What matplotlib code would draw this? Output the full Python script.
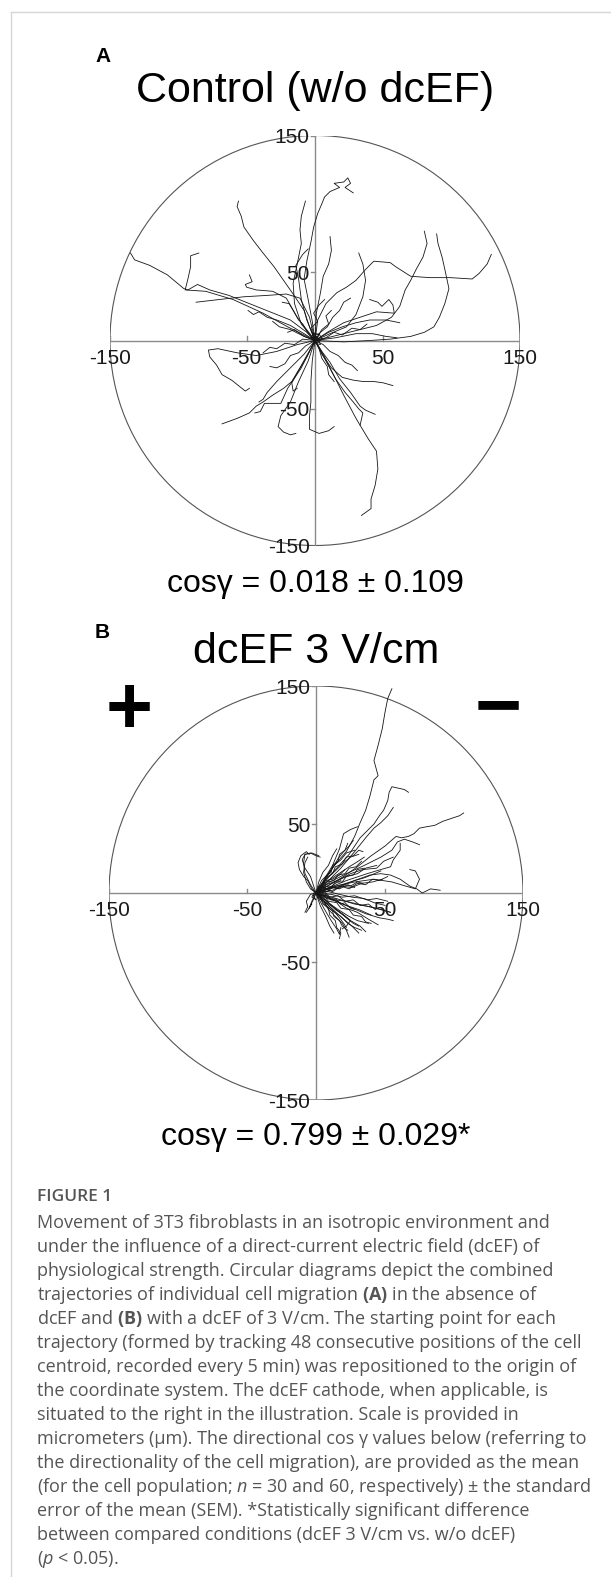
import matplotlib
matplotlib.use("Agg")
import matplotlib.pyplot as plt
from matplotlib.patches import Circle
from matplotlib.lines import Line2D

# ── data: cell trajectories (µm, start repositioned to origin) ─────────────
control_tracks = [
    [(0, 0), (-2, 14), (-5, 30), (-8, 45), (-6, 58), (-3, 72), (-1, 83), (2, 93), (5, 100), (7, 105),
     (11, 109), (18, 112), (14, 115), (21, 116), (24, 119), (26, 115), (22, 112), (28, 108)],
    [(0, 0), (-4, 10), (-8, 22), (-16, 34), (-23, 44), (-30, 54), (-38, 64), (-45, 73), (-52, 83),
     (-54, 91), (-57, 98), (-56, 102)],
    [(0, 0), (-10, 12), (-15, 27), (-16, 42), (-13, 56), (-10, 71), (-11, 81), (-10, 91), (-7, 102)],
    [(0, 0), (-6, 15), (-10, 30), (-12, 45), (-14, 55), (-9, 63), (-5, 67)],
    [(0, 0), (-6, 6), (-18, 15), (-33, 21), (-48, 27), (-63, 33), (-77, 37), (-86, 41), (-93, 37),
     (-96, 38), (-108, 48), (-121, 55), (-132, 59), (-135, 64)],
    [(0, 0), (-8, 4), (-20, 10), (-38, 20), (-60, 30), (-80, 36), (-95, 37), (-93, 45), (-91, 54),
     (-91, 62), (-85, 64)],
    [(0, 0), (-4, 17), (-11, 31), (-21, 34), (-35, 33), (-52, 32), (-70, 30), (-87, 28)],
    [(0, 0), (-13, 17), (-21, 31), (-31, 36), (-43, 37), (-50, 39), (-51, 41), (-46, 43), (-48, 48)],
    [(0, 0), (-8, 5), (-18, 11), (-28, 15), (-35, 17), (-41, 21), (-45, 19), (-49, 22)],
    [(0, 0), (-8, 3), (-18, 8), (-26, 10), (-31, 14)],
    [(0, 0), (1, 20), (4, 35), (6, 47), (10, 56), (12, 66), (11, 76)],
    [(0, 0), (11, 5), (23, 10), (30, 19), (35, 32), (37, 44), (35, 56), (32, 64)],
    [(0, 0), (2, 15), (8, 27), (16, 35), (23, 39), (30, 44), (37, 52), (43, 58), (55, 57), (59, 54),
     (70, 47), (84, 46), (99, 46), (115, 45), (120, 49), (126, 56), (129, 63)],
    [(0, 0), (9, 2), (21, 5), (33, 8), (45, 11), (56, 17), (62, 25), (66, 37), (70, 44), (74, 52),
     (79, 61), (82, 71), (80, 80)],
    [(0, 0), (21, -1), (40, 0), (55, 1), (70, 3), (80, 6), (87, 10), (91, 17), (95, 27), (98, 38),
     (95, 52), (93, 61), (90, 71), (89, 78)],
    [(0, 0), (9, 6), (21, 13), (33, 17), (45, 21), (58, 20), (57, 26), (54, 30), (49, 25), (46, 28), (40, 30)],
    [(0, 0), (10, 6), (20, 10), (30, 13), (40, 15), (52, 15), (62, 13)],
    [(0, 0), (15, 2), (30, 5), (42, 5), (52, 3), (60, 2)],
    [(0, 0), (-13, -3), (-28, -8), (-43, -11), (-57, -9), (-71, -6), (-78, -7), (-77, -12), (-72, -18),
     (-68, -25), (-61, -29), (-56, -33), (-51, -37), (-48, -35)],
    [(0, 0), (-6, -11), (-11, -20), (-17, -30), (-23, -35), (-31, -40), (-38, -45), (-43, -48),
     (-48, -53), (-57, -57), (-68, -61)],
    [(0, 0), (-10, -20), (-20, -35), (-25, -46), (-37, -46), (-40, -52), (-44, -53)],
    [(0, 0), (-5, -15), (-12, -30), (-18, -45), (-25, -55), (-27, -63), (-23, -67), (-18, -69), (-14, -68)],
    [(0, 0), (-2, -15), (-3, -30), (-3, -45), (-4, -55), (-4, -65), (3, -68), (10, -66), (14, -63)],
    [(0, 0), (-8, -10), (-18, -20), (-28, -30), (-35, -38), (-38, -43), (-41, -45)],
    [(0, 0), (-6, -12), (-12, -22), (-17, -31), (-16, -37), (-13, -35)],
    [(0, 0), (6, -10), (11, -20), (21, -40), (30, -57), (39, -72), (45, -81), (46, -94), (44, -106),
     (41, -116), (41, -123), (34, -128)],
    [(0, 0), (5, -10), (12, -20), (20, -27), (28, -29), (35, -30), (43, -30), (50, -31), (57, -33)],
    [(0, 0), (5, -8), (11, -16), (18, -28), (26, -38), (33, -48), (37, -51), (44, -54)],
    [(0, 0), (8, -15), (15, -28), (22, -38), (28, -45), (32, -50), (35, -53), (33, -62)],
    [(0, 0), (5, 8), (10, 12), (8, 18), (12, 22)],
    [(0, 0), (-8, 3), (-15, 8), (-20, 6)],
    [(0, 0), (3, 4), (-2, 6), (2, 2), (4, -3), (0, -2)],
    [(0, 0), (4, 6), (9, 10), (13, 17), (18, 22), (21, 28), (26, 31)],
    [(0, 0), (-5, 5), (-9, 12), (-12, 15), (-16, 22), (-19, 27), (-24, 28)],
    [(0, 0), (6, -3), (11, -8), (17, -11), (22, -16), (27, -18), (31, -22)],
    [(0, 0), (-7, -4), (-12, -9), (-18, -11), (-22, -17), (-28, -20), (-33, -19)],
    [(0, 0), (3, -6), (5, -13), (9, -19), (10, -25), (14, -30)],
    [(0, 0), (-3, 9), (2, 14), (-1, 20), (3, 26), (7, 30)],
    [(0, 0), (8, 2), (14, 6), (20, 4), (27, 9), (33, 8), (38, 12)],
    [(0, 0), (-9, 1), (-15, -3), (-22, -2), (-28, -6), (-33, -5), (-38, -9)],
    [(0, 0), (2, 3), (-3, 2), (1, -2), (5, 1), (3, 5), (-2, 4), (0, 0)],
]

dcef_tracks = [
    [(0, 0), (4, 6), (9, 14), (15, 22), (22, 30), (28, 41), (32, 51), (36, 60), (39, 70), (42, 82),
     (45, 85), (42, 96), (45, 107), (48, 119), (50, 131), (52, 141), (55, 148)],
    [(0, 0), (7, 9), (15, 18), (24, 28), (32, 40), (37, 45), (42, 50), (46, 56), (49, 60), (52, 67),
     (53, 73), (55, 77), (64, 75), (67, 73)],
    [(0, 0), (8, 8), (18, 18), (28, 30), (36, 40), (42, 47), (47, 51), (52, 56), (56, 62)],
    [(0, 0), (10, 6), (20, 12), (30, 19), (40, 27), (50, 34), (58, 41), (62, 40), (67, 41), (71, 43),
     (75, 47), (80, 48), (86, 49), (92, 52), (98, 54), (104, 56), (107, 58)],
    [(0, 0), (6, 10), (12, 20), (17, 32), (20, 43), (25, 46), (30, 48)],
    [(0, 0), (10, 8), (22, 14), (35, 20), (47, 26), (55, 31), (59, 37), (64, 39), (70, 37), (75, 35)],
    [(0, 0), (12, 4), (25, 8), (39, 13), (47, 14), (54, 13), (61, 10), (68, 5), (73, 3), (77, 0),
     (83, 3), (90, 2)],
    [(0, 0), (14, 5), (28, 8), (42, 10), (55, 8), (65, 5), (72, 3), (75, 10), (72, 16), (68, 17)],
    [(0, 0), (10, 4), (22, 9), (37, 14), (47, 17), (54, 19), (56, 24), (61, 31), (61, 36)],
    [(0, 0), (-4, 6), (-8, 14), (-9, 22), (-8, 28), (-4, 29), (0, 27), (3, 26)],
    [(0, 0), (-2, -5), (-5, -11), (-3, -8)],
    [(0, 0), (8, -2), (18, -5), (28, -8), (39, -10), (47, -12), (54, -14)],
    [(0, 0), (6, -6), (12, -12), (17, -18), (20, -22), (22, -25)],
    [(0, 0), (8, -6), (14, -12), (20, -16), (25, -20), (22, -24), (19, -26)],
    [(0, 0), (12, -5), (24, -10), (36, -15), (46, -18), (52, -19), (56, -20)],
    [(0, 0), (8, -4), (15, -6), (22, -11), (30, -14), (38, -19), (45, -23)],
    [(0, 0), (6, -6), (12, -10), (19, -15), (25, -20), (32, -24), (36, -28)],
    [(0, 0), (5, -5), (9, -12), (14, -17), (19, -22), (22, -27), (24, -32)],
    [(0, 0), (7, -2), (14, -5), (22, -6), (30, -8), (39, -10), (47, -12), (54, -14)],
    [(0, 0), (9, 1), (17, -1), (26, -3), (35, -4), (42, -7), (50, -9)],
    [(0, 0), (4, -8), (8, -15), (11, -20), (15, -26), (17, -30), (18, -25)],
    [(0, 0), (10, 3), (18, 5), (26, 4), (33, 7), (41, 8), (48, 10)],
    [(0, 0), (8, 5), (15, 9), (22, 12), (30, 14), (36, 18), (44, 20)],
    [(0, 0), (6, 7), (12, 11), (18, 15), (24, 19), (29, 22), (35, 26)],
    [(0, 0), (4, 9), (9, 14), (13, 20), (18, 24), (22, 29), (28, 31)],
    [(0, 0), (2, 8), (5, 15), (9, 20), (12, 27), (15, 32)],
    [(0, 0), (-2, 6), (-4, 12), (-8, 18), (-10, 24), (-8, 28), (-3, 29), (2, 27)],
    [(0, 0), (-3, -6), (-5, -11), (-7, -14)],
    [(0, 0), (-4, 3), (-7, 8), (-9, 15), (-8, 22), (-6, 26)],
    [(0, 0), (11, -1), (19, -3), (28, -2), (37, -5), (44, -4), (52, -6)],
    [(0, 0), (6, -8), (12, -13), (18, -17), (23, -22), (28, -25), (33, -27)],
    [(0, 0), (9, -7), (16, -12), (24, -17), (30, -20), (38, -22)],
    [(0, 0), (12, 2), (20, 6), (28, 9), (35, 11), (40, 13), (47, 16)],
    [(0, 0), (7, 10), (14, 16), (20, 22), (25, 26), (31, 28)],
    [(0, 0), (3, -9), (7, -17), (10, -24), (13, -29)],
    [(0, 0), (10, -10), (19, -18), (26, -24), (31, -29)],
    [(0, 0), (13, -5), (22, -9), (31, -12), (40, -16)],
    [(0, 0), (5, 2), (11, 5), (17, 3), (23, 6), (28, 4)],
    [(0, 0), (4, 4), (9, 3), (14, 7), (18, 9)],
    [(0, 0), (8, 12), (12, 18), (16, 25), (20, 30), (24, 34), (27, 38)],
    [(0, 0), (7, 6), (16, 9), (25, 14), (34, 17), (44, 18), (49, 23), (56, 26)],
    [(0, 0), (5, -3), (10, -8), (16, -13), (22, -18), (27, -22), (31, -24)],
    [(0, 0), (3, 5), (7, 9), (12, 10), (17, 13), (21, 17)],
    [(0, 0), (3, 2), (8, 1), (12, 4), (16, 3), (21, 6), (25, 5), (30, 8), (34, 7)],
    [(0, 0), (4, -2), (7, -1), (11, -5), (14, -4), (18, -8), (21, -7), (25, -11), (28, -12)],
    [(0, 0), (2, -4), (6, -6), (8, -10), (12, -13), (13, -17), (17, -20), (19, -24), (23, -27)],
    [(0, 0), (5, 4), (8, 8), (13, 9), (16, 13), (21, 14), (24, 18), (29, 19), (33, 23)],
    [(0, 0), (2, 5), (6, 7), (7, 12), (11, 15), (12, 20), (16, 23), (17, 28), (21, 31), (23, 36)],
    [(0, 0), (-3, 3), (-6, 9), (-9, 12), (-12, 17), (-13, 22), (-11, 27), (-7, 30), (-5, 28)],
    [(0, 0), (6, 1), (10, -3), (16, -2), (21, -6), (27, -5), (32, -9), (38, -8), (43, -12)],
    [(0, 0), (7, 3), (12, 1), (18, 5), (24, 3), (30, 7), (36, 6), (41, 10), (46, 9), (52, 12)],
    [(0, 0), (3, -3), (5, -8), (9, -11), (10, -16), (14, -20), (15, -25), (18, -29), (17, -33)],
    [(0, 0), (4, 1), (7, 5), (11, 4), (14, 8), (19, 8), (22, 12), (27, 13), (30, 17), (35, 18)],
    [(0, 0), (2, 2), (5, 0), (7, 3), (4, 5), (1, 3), (3, 1)],
    [(0, 0), (-2, -2), (0, -5), (-3, -3), (-1, 1)],
    [(0, 0), (6, -2), (9, -6), (15, -7), (18, -11), (24, -12), (27, -16), (33, -17), (36, -21), (40, -22)],
    [(0, 0), (5, 6), (7, 11), (12, 14), (14, 19), (19, 21), (22, 26), (27, 27), (31, 31), (34, 30)],
    [(0, 0), (-4, -1), (-7, -6), (-6, -10), (-8, -14)],
]

panels = [
    dict(label="A", title="Control (w/o dcEF)", stat="cosγ = 0.018 ± 0.109",
         tracks=control_tracks, cx=315, cy=340.5, r=205, label_y=56, title_y=102, stat_y=592),
    dict(label="B", title="dcEF 3 V/cm", stat="cosγ = 0.799 ± 0.029*",
         tracks=dcef_tracks, cx=316, cy=893, r=207, label_y=632, title_y=663, stat_y=1145),
]
tick_vals = [-150, -50, 50, 150]

caption_head = "FIGURE 1"
caption_lines = [
    "Movement of 3T3 fibroblasts in an isotropic environment and",
    "under the influence of a direct-current electric field (dcEF) of",
    "physiological strength. Circular diagrams depict the combined",
    r"trajectories of individual cell migration $\mathbf{(A)}$ in the absence of",
    r"dcEF and $\mathbf{(B)}$ with a dcEF of 3 V/cm. The starting point for each",
    "trajectory (formed by tracking 48 consecutive positions of the cell",
    "centroid, recorded every 5 min) was repositioned to the origin of",
    "the coordinate system. The dcEF cathode, when applicable, is",
    "situated to the right in the illustration. Scale is provided in",
    "micrometers (μm). The directional cos γ values below (referring to",
    "the directionality of the cell migration), are provided as the mean",
    r"(for the cell population; $\mathit{n}$ = 30 and 60, respectively) ± the standard",
    "error of the mean (SEM). *Statistically significant difference",
    "between compared conditions (dcEF 3 V/cm vs. w/o dcEF)",
    r"($\mathit{p}$ < 0.05).",
]

# ── style ──────────────────────────────────────────────────────────────────
W, H = 611, 1577
SANS = "Liberation Sans"
CAP_FONT = "Open Sans"
CAP_COLOR = "#555555"
plt.rcParams.update({
    "mathtext.fontset": "custom",
    "mathtext.rm": CAP_FONT,
    "mathtext.it": CAP_FONT + ":italic",
    "mathtext.bf": CAP_FONT + ":bold",
})


def fx(px):
    return px / W


def fy(py):
    return 1 - py / H


fig = plt.figure(figsize=(W / 100, H / 100), dpi=100)
fig.patch.set_facecolor("white")

# card border
fig.add_artist(Line2D([fx(11), fx(11)], [fy(12), 0], color="#d6d6d6", lw=1))
fig.add_artist(Line2D([fx(11), 1], [fy(12), fy(12)], color="#d6d6d6", lw=1))

for p in panels:
    cx, cy, r = p["cx"], p["cy"], p["r"]
    ax = fig.add_axes([fx(cx - r), fy(cy + r), 2 * r / W, 2 * r / H])
    ax.set_xlim(-150, 150)
    ax.set_ylim(-150, 150)
    ax.axis("off")

    ax.add_patch(Circle((0, 0), 150, fill=False, ec="#555555", lw=0.8))
    ax.plot([-150, 150], [0, 0], color="#8a8a8a", lw=1.0)
    ax.plot([0, 0], [-150, 150], color="#8a8a8a", lw=1.0)
    for v in tick_vals:
        ax.plot([v, v], [0, 3], color="#8a8a8a", lw=1.0)
        ax.plot([0, -3], [v, v], color="#8a8a8a", lw=1.0)
        ax.text(v, -11.5, str(v), ha="center", va="center_baseline", fontsize=15,
                family=SANS, color="#1a1a1a")
        ax.text(-4, v, str(v), ha="right", va="center_baseline", fontsize=15,
                family=SANS, color="#1a1a1a")

    for tr in p["tracks"]:
        xs = [pt[0] for pt in tr]
        ys = [pt[1] for pt in tr]
        ax.plot(xs, ys, color="#151515", lw=0.6, clip_on=False)

    fig.text(fx(95), fy(p["label_y"]), p["label"], ha="left",
             va="center", fontsize=15, weight="bold", family=SANS)
    fig.text(fx(cx), fy(p["title_y"]), p["title"], ha="center", va="baseline",
             fontsize=31, family=SANS)
    fig.text(fx(cx), fy(p["stat_y"]), p["stat"], ha="center", va="baseline",
             fontsize=23, family=SANS)

# electrode polarity (panel B)
fig.text(fx(129), fy(712), "+", ha="center", va="center", fontsize=58,
         weight="bold", family=SANS)
fig.text(fx(498), fy(710), "\u2212", ha="center", va="center", fontsize=58,
         weight="bold", family=SANS)

# ── caption ────────────────────────────────────────────────────────────────
fig.text(fx(37), fy(1197), caption_head, ha="left", va="center", fontsize=12.5,
         family=CAP_FONT, weight="semibold", color=CAP_COLOR)
for i, line in enumerate(caption_lines):
    fig.text(fx(37), fy(1223 + 24.0 * i), line, ha="left", va="center",
             fontsize=13.0, family=CAP_FONT, color=CAP_COLOR)

fig.savefig("out.png", dpi=100, facecolor="white")
